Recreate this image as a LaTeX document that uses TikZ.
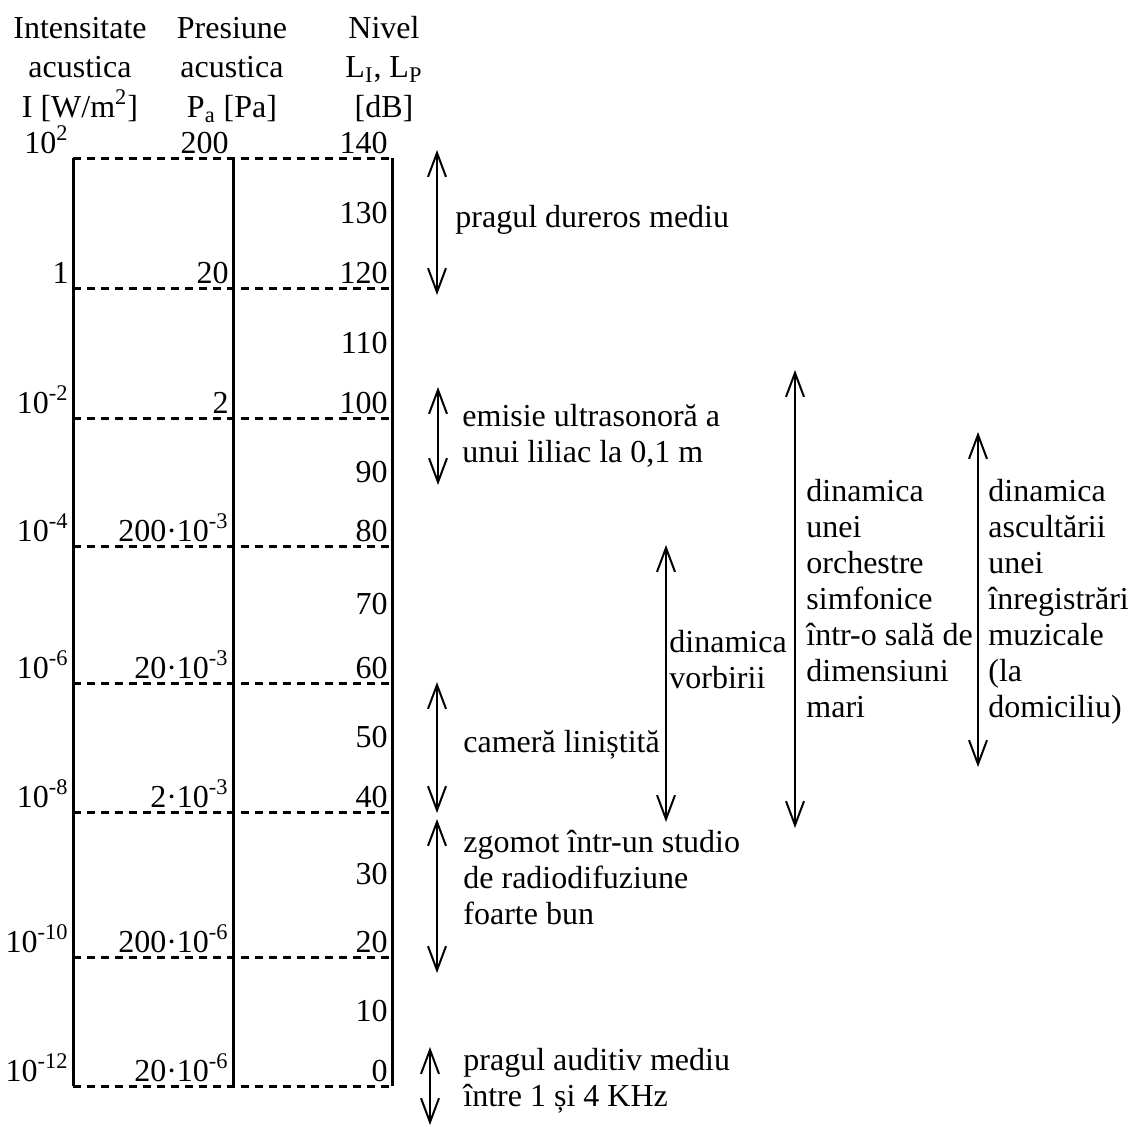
\documentclass[tikz,border=0pt]{standalone}
\usepackage{fontspec}
\setmainfont{Liberation Serif}
\usetikzlibrary{arrows.meta}

\begin{document}
\begin{tikzpicture}[x=0.5pt, y=-0.5pt, font=\fontsize{16}{18}\selectfont,
    >={Straight Barb[length=12pt,width=9pt]},
    axis/.style = {line width=1.5pt},
    lvl/.style = {line width=1.5pt, dash pattern=on 4pt off 3pt},
    val/.style = {anchor=base east, inner sep=0pt},
    head/.style = {align=center, anchor=base, inner sep=0pt, font=\fontsize{16}{19.75}\selectfont},
    note/.style = {align=left, anchor=base west, inner sep=0pt},
    arr/.style = {line width=1pt, <->}]
    \useasboundingbox (0,0) rectangle (1130,1126);
    % column heads (anchored at the last line)
    \node[head] (hI) at (80,117) {Intensitate\\acustica\\I [W/m\textsuperscript{2}]};
    \node[head] (hP) at (232,117) {Presiune\\acustica\\P\textsubscript{a} [Pa]};
    \node[head] (hL) at (384,117) {Nivel\\L\textsubscript{I}, L\textsubscript{P}\\{}[dB]};
    % levels every 20 dB
    \foreach \L/\y/\I/\P in {140/158/10\textsuperscript{2}/200, 120/288/1/20,
        100/418/10\textsuperscript{-2}/2, 80/546/10\textsuperscript{-4}/200·10\textsuperscript{-3},
        60/683/10\textsuperscript{-6}/20·10\textsuperscript{-3}, 40/812/10\textsuperscript{-8}/2·10\textsuperscript{-3},
        20/957/10\textsuperscript{-10}/200·10\textsuperscript{-6}, 0/1086/10\textsuperscript{-12}/20·10\textsuperscript{-6}} {
        \coordinate (a\L) at (73,\y);
        \coordinate (b\L) at (233,\y);
        \coordinate (c\L) at (392,\y);
        \draw[lvl] (a\L) -- (c\L);
        \node[val] (I\L) at (69,\y-5) {\I};
        \node[val] (P\L) at (229,\y-5) {\P};
        \node[val] (L\L) at (388,\y-5) {\L};
    }
    \foreach \L/\y in {130/223, 110/353, 90/482, 70/614, 50/747, 30/884, 10/1021}
        \node[val] (L\L) at (388,\y) {\L};
    \draw[axis] (a140) -- (a0);
    \draw[axis] (b140) -- (b0);
    \draw[axis] (c140) -- (c0);
    % ranges
    \coordinate (d1) at (437,150); \coordinate (d2) at (437,295);
    \coordinate (u1) at (438,387); \coordinate (u2) at (438,485);
    \coordinate (v1) at (666,545); \coordinate (v2) at (666,822);
    \coordinate (o1) at (795,370); \coordinate (o2) at (795,828);
    \coordinate (r1) at (978,432); \coordinate (r2) at (978,767);
    \coordinate (m1) at (437,682); \coordinate (m2) at (437,813);
    \coordinate (s1) at (437,819); \coordinate (s2) at (437,973);
    \coordinate (p1) at (430,1047); \coordinate (p2) at (430,1125);
    \draw[arr] (d1) -- (d2);
    \draw[arr] (u1) -- (u2);
    \draw[arr] (v1) -- (v2);
    \draw[arr] (o1) -- (o2);
    \draw[arr] (r1) -- (r2);
    \draw[arr] (m1) -- (m2);
    \draw[arr] (s1) -- (s2);
    \draw[arr] (p1) -- (p2);
    % texts (anchored at the last line)
    \node[note] (dur) at (455,227) {pragul dureros mediu};
    \node[note] (bat) at (462,462) {emisie ultrasonoră a\\unui liliac la 0,1 m};
    \node[note] (cam) at (463,752) {cameră liniștită};
    \node[note] (stu) at (463,924) {zgomot într-un studio\\de radiodifuziune\\foarte bun};
    \node[note] (aud) at (463,1106) {pragul auditiv mediu\\între 1 și 4 KHz};
    \node[note] (vor) at (669,688) {dinamica\\vorbirii};
    \node[note] (orc) at (806,717) {dinamica\\unei\\orchestre\\simfonice\\într-o sală de\\dimensiuni\\mari};
    \node[note] (inr) at (988,717) {dinamica\\ascultării\\unei\\înregistrări\\muzicale\\(la\\domiciliu)};
\end{tikzpicture}
\end{document}
